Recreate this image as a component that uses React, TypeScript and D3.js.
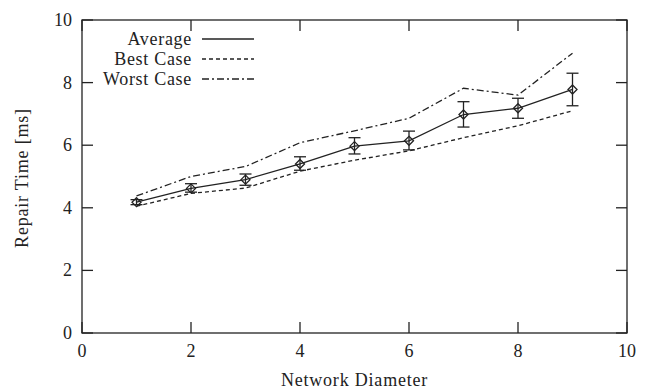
import React from "react";
import * as d3 from "d3";

const diameters = [1, 2, 3, 4, 5, 6, 7, 8, 9];
const averageValues = [4.18, 4.62, 4.9, 5.4, 5.97, 6.14, 6.98, 7.18, 7.78];
const averageLow = [4.1, 4.5, 4.72, 5.2, 5.72, 5.85, 6.58, 6.86, 7.26];
const averageHigh = [4.26, 4.77, 5.08, 5.63, 6.24, 6.45, 7.39, 7.5, 8.3];
const bestValues = [4.05, 4.46, 4.63, 5.17, 5.52, 5.82, 6.24, 6.62, 7.1];
const worstValues = [4.38, 5.0, 5.32, 6.08, 6.46, 6.86, 7.82, 7.6, 8.94];
const xTicks = [0, 2, 4, 6, 8, 10];
const yTicks = [0, 2, 4, 6, 8, 10];
const legendLabels = ["Average", "Best Case", "Worst Case"];

const W = 650;
const H = 390;
const M = { left: 82, right: 627, top: 20, bottom: 333 };
const FONT = "'Liberation Serif', 'Times New Roman', serif";
const INK = "#222";

export default function App() {
  const x = d3.scaleLinear().domain([0, 10]).range([M.left, M.right]);
  const y = d3.scaleLinear().domain([0, 10]).range([M.bottom, M.top]);
  const line = d3
    .line<number>()
    .x((_, i) => x(diameters[i]))
    .y((d) => y(d));

  const dashes = ["", "4,3", "7,3,2,3"];
  const series = [averageValues, bestValues, worstValues];
  const tickLen = 11;

  return (
    <svg
      width={W}
      height={H}
      style={{ position: "absolute", left: 0, top: 0, background: "#fff" }}
      fontFamily={FONT}
    >
      <rect x={0} y={0} width={W} height={H} fill="#fff" />
      {/* frame */}
      <rect
        x={M.left}
        y={M.top}
        width={M.right - M.left}
        height={M.bottom - M.top}
        fill="none"
        stroke={INK}
        strokeWidth={1.3}
      />
      {/* ticks */}
      {xTicks.map((t) => (
        <g key={"xt" + t}>
          <line x1={x(t)} x2={x(t)} y1={M.bottom} y2={M.bottom - tickLen} stroke={INK} strokeWidth={1.3} />
          <line x1={x(t)} x2={x(t)} y1={M.top} y2={M.top + tickLen} stroke={INK} strokeWidth={1.3} />
          <text x={x(t)} y={M.bottom + 24} textAnchor="middle" fontSize={18} fill={INK}>
            {t}
          </text>
        </g>
      ))}
      {yTicks.map((t) => (
        <g key={"yt" + t}>
          <line x1={M.left} x2={M.left + tickLen} y1={y(t)} y2={y(t)} stroke={INK} strokeWidth={1.3} />
          <line x1={M.right} x2={M.right - tickLen} y1={y(t)} y2={y(t)} stroke={INK} strokeWidth={1.3} />
          <text x={M.left - 10} y={y(t) + 6} textAnchor="end" fontSize={18} fill={INK}>
            {t}
          </text>
        </g>
      ))}
      {/* axis titles */}
      <text
        x={(M.left + M.right) / 2}
        y={386}
        textAnchor="middle"
        fontSize={18}
        letterSpacing={0.8}
        fill={INK}
      >
        Network Diameter
      </text>
      <text
        transform={`translate(28,178) rotate(-90)`}
        textAnchor="middle"
        fontSize={18}
        letterSpacing={0.8}
        fill={INK}
      >
        Repair Time [ms]
      </text>
      {/* series lines */}
      {series.map((s, i) => (
        <path
          key={"s" + i}
          d={line(s) || ""}
          fill="none"
          stroke={INK}
          strokeWidth={1.3}
          strokeDasharray={dashes[i] || undefined}
        />
      ))}
      {/* error bars + markers */}
      {diameters.map((dv, i) => {
        const cx = x(dv);
        const cy = y(averageValues[i]);
        const yl = y(averageLow[i]);
        const yh = y(averageHigh[i]);
        const r = 4.5;
        return (
          <g key={"e" + i} stroke={INK} strokeWidth={1.3} fill="none">
            <line x1={cx} x2={cx} y1={yl} y2={yh} />
            <line x1={cx - 6} x2={cx + 6} y1={yl} y2={yl} />
            <line x1={cx - 6} x2={cx + 6} y1={yh} y2={yh} />
            <path d={`M${cx},${cy - r}L${cx + r},${cy}L${cx},${cy + r}L${cx - r},${cy}Z`} />
          </g>
        );
      })}
      {/* legend */}
      {legendLabels.map((lab, i) => {
        const ly = 39 + i * 20;
        return (
          <g key={"lg" + i}>
            <text x={192} y={ly + 6} textAnchor="end" fontSize={18} letterSpacing={0.7} fill={INK}>
              {lab}
            </text>
            <line
              x1={202}
              x2={254}
              y1={ly}
              y2={ly}
              stroke={INK}
              strokeWidth={1.3}
              strokeDasharray={dashes[i] || undefined}
            />
          </g>
        );
      })}
    </svg>
  );
}
